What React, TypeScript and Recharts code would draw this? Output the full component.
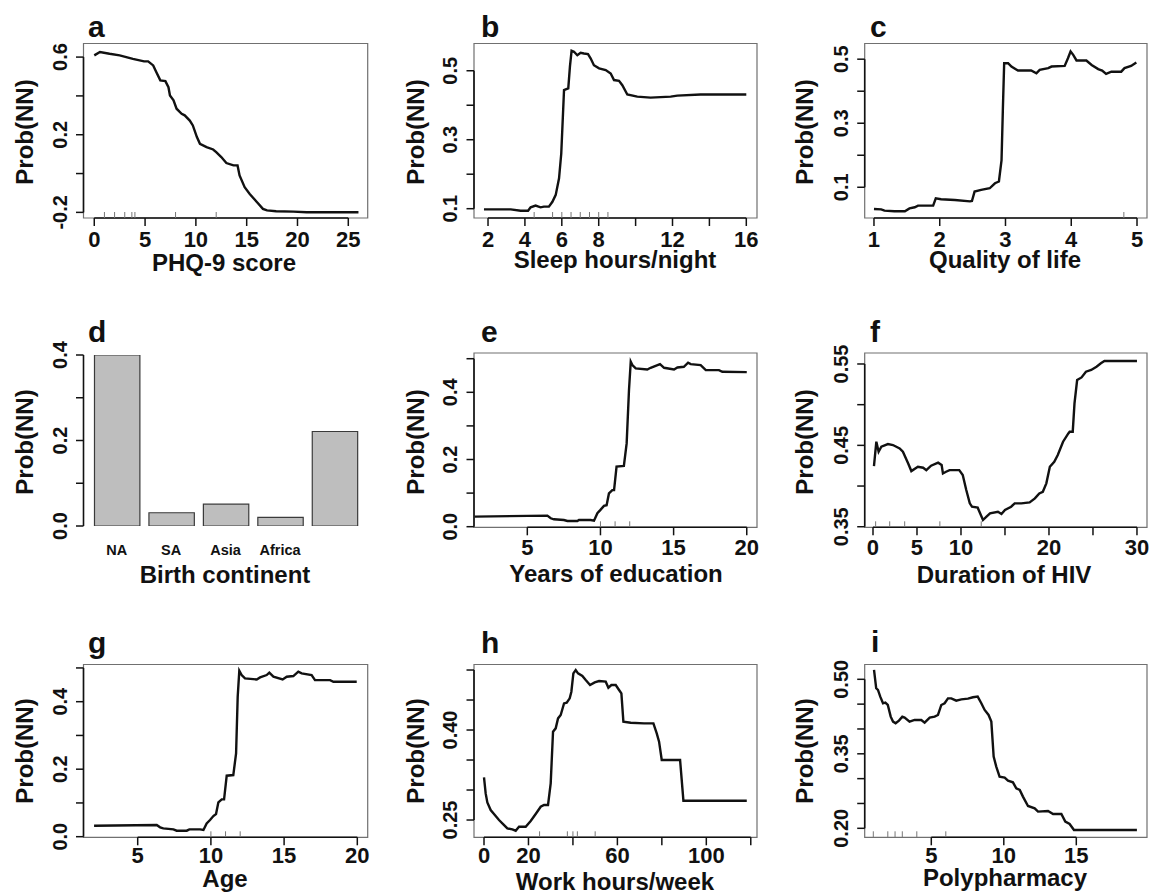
import React from 'react';
import { ComposedChart, Line, Bar, Scatter, XAxis, YAxis, ReferenceArea, ReferenceLine } from 'recharts';

// a - PHQ-9 score
const phqX = [0, 0.56, 1.5, 2.5, 3.8, 4.9, 5.3, 5.8, 6.1, 6.5, 7.0, 7.3, 7.45, 7.8, 8.1, 8.6, 8.9, 9.4, 9.7, 10.1, 10.4, 11.05, 11.7, 12.0, 12.5, 13.0, 13.7, 14.1, 14.3, 14.8, 15.3, 16.0, 16.6, 17.0, 17.9, 19.6, 20.9, 26];
const phqY = [0.609, 0.626, 0.617, 0.609, 0.591, 0.578, 0.578, 0.557, 0.523, 0.48, 0.476, 0.445, 0.402, 0.377, 0.334, 0.308, 0.3, 0.273, 0.248, 0.188, 0.153, 0.136, 0.124, 0.11, 0.085, 0.054, 0.042, 0.042, -0.01, -0.07, -0.105, -0.147, -0.182, -0.19, -0.194, -0.196, -0.199, -0.199];
const phqRug = [1, 2, 3, 3.7, 4, 8, 12];

// b - sleep hours
const sleepX = [1.78, 3.23, 3.77, 4.17, 4.31, 4.58, 4.85, 5.03, 5.3, 5.49, 5.67, 5.85, 5.97, 6.12, 6.21, 6.35, 6.44, 6.53, 6.66, 6.84, 7.02, 7.2, 7.42, 7.56, 7.74, 8.02, 8.38, 8.65, 8.83, 9.1, 9.28, 9.55, 10.09, 10.81, 11.9, 12.26, 13.52, 16];
const sleepY = [0.098, 0.098, 0.094, 0.094, 0.104, 0.109, 0.104, 0.106, 0.106, 0.12, 0.14, 0.188, 0.26, 0.444, 0.446, 0.449, 0.512, 0.558, 0.555, 0.545, 0.552, 0.55, 0.548, 0.536, 0.516, 0.507, 0.502, 0.492, 0.473, 0.471, 0.458, 0.431, 0.425, 0.422, 0.425, 0.428, 0.431, 0.431];
const sleepRug = [4.5, 5.5, 6, 6.5, 7, 7.5, 8, 8.5];

// c - quality of life
const qolX = [1, 1.11, 1.16, 1.31, 1.47, 1.54, 1.62, 1.67, 1.9, 1.94, 2.02, 2.23, 2.46, 2.49, 2.53, 2.63, 2.76, 2.84, 2.9, 2.94, 2.96, 2.98, 3.04, 3.09, 3.19, 3.39, 3.47, 3.52, 3.65, 3.7, 3.9, 3.95, 3.99, 4.03, 4.08, 4.23, 4.31, 4.41, 4.47, 4.53, 4.61, 4.76, 4.81, 4.91, 4.99];
const qolY = [0.0323, 0.031, 0.027, 0.025, 0.025, 0.034, 0.0375, 0.0427, 0.0427, 0.0656, 0.0625, 0.0604, 0.056, 0.057, 0.0865, 0.0917, 0.0969, 0.1125, 0.118, 0.185, 0.342, 0.4875, 0.4875, 0.477, 0.4646, 0.4646, 0.456, 0.4667, 0.472, 0.477, 0.479, 0.503, 0.524, 0.5135, 0.496, 0.496, 0.482, 0.469, 0.4646, 0.454, 0.461, 0.461, 0.472, 0.479, 0.4896];
const qolRug = [4.8];

// d - birth continent
const continents = ['NA', 'SA', 'Asia', 'Africa', ''];
const continentPos = [0.7, 1.9, 3.1, 4.3, 5.5];
const continentProb = [0.4, 0.031, 0.051, 0.02, 0.221];

// e - years of education
const eduX = [1.4, 6.37, 6.6, 6.82, 7.5, 7.74, 8.42, 8.53, 9.33, 9.56, 9.79, 10.0, 10.24, 10.42, 10.58, 10.81, 10.93, 11.1, 11.6, 11.79, 11.95, 12.07, 12.18, 12.41, 13.2, 13.43, 13.9, 14.07, 14.35, 15.03, 15.26, 15.7, 15.99, 16.17, 16.85, 17.2, 18.1, 18.33, 20];
const eduY = [0.03, 0.033, 0.025, 0.022, 0.02, 0.017, 0.017, 0.02, 0.02, 0.018, 0.04, 0.05, 0.062, 0.064, 0.099, 0.109, 0.109, 0.179, 0.181, 0.248, 0.407, 0.491, 0.481, 0.471, 0.468, 0.473, 0.481, 0.484, 0.473, 0.468, 0.474, 0.476, 0.488, 0.484, 0.481, 0.466, 0.466, 0.461, 0.46];
const eduRug = [10, 11, 12];

// f - duration of HIV
const hivX = [0.11, 0.38, 0.64, 0.95, 1.7, 2.27, 3.03, 3.4, 4.0, 4.36, 5.1, 5.7, 6.06, 6.6, 7.4, 7.8, 7.95, 8.3, 8.7, 9.8, 10.2, 10.6, 11.0, 11.25, 11.9, 12.5, 12.9, 13.3, 14.2, 14.6, 15.0, 15.7, 16.1, 16.86, 17.8, 18.4, 18.9, 19.3, 19.7, 20.1, 20.6, 21.0, 21.6, 22.2, 22.35, 22.7, 22.9, 23.2, 23.7, 24.2, 24.8, 25.4, 25.9, 26.3, 30];
const hivY = [0.4246, 0.4545, 0.4422, 0.4483, 0.4516, 0.4504, 0.4463, 0.4422, 0.4278, 0.4184, 0.4237, 0.4225, 0.4196, 0.425, 0.4287, 0.4258, 0.4155, 0.4176, 0.4196, 0.4196, 0.4135, 0.3951, 0.3787, 0.3746, 0.3734, 0.3582, 0.3623, 0.3664, 0.3684, 0.3656, 0.3705, 0.3746, 0.3787, 0.3787, 0.3799, 0.3848, 0.391, 0.393, 0.4033, 0.4237, 0.4299, 0.4381, 0.4545, 0.4647, 0.4668, 0.4668, 0.5016, 0.5303, 0.5335, 0.5405, 0.5426, 0.5467, 0.5508, 0.5536, 0.5536];
const hivRug = [0.3, 1.9, 3.6, 7.6, 12.3];

// g - age
const ageX = [2.02, 6.3, 6.53, 6.75, 7.44, 7.66, 8.35, 8.53, 9.26, 9.49, 9.71, 9.94, 10.17, 10.35, 10.51, 10.74, 10.9, 11.08, 11.53, 11.72, 11.83, 11.94, 12.1, 12.33, 13.13, 13.36, 13.81, 13.99, 14.27, 14.9, 15.18, 15.63, 15.97, 16.2, 16.88, 17.11, 18.14, 18.37, 19.96];
const ageY = [0.0326, 0.0346, 0.0277, 0.0247, 0.0217, 0.0178, 0.0178, 0.0217, 0.0217, 0.0198, 0.0395, 0.0494, 0.0612, 0.0672, 0.1017, 0.1106, 0.1106, 0.1807, 0.1827, 0.2469, 0.4148, 0.4919, 0.479, 0.469, 0.466, 0.472, 0.479, 0.486, 0.474, 0.466, 0.474, 0.476, 0.489, 0.484, 0.479, 0.464, 0.464, 0.459, 0.459];
const ageRug = [10, 11, 12];

// h - work hours/week
const workX = [0, 0.75, 1.5, 3, 5.25, 6.75, 8.7, 10.5, 12.75, 14.25, 15.75, 18.75, 21, 23.25, 25.5, 27, 28.8, 30, 31.05, 32.25, 33.3, 34.5, 36, 37.2, 38.55, 39.3, 40.2, 41.25, 42.3, 44.25, 45.75, 47.7, 49.8, 51.75, 54.75, 55.95, 57.3, 59.25, 60.75, 61.8, 62.7, 66, 72, 76.2, 77.7, 78.75, 79.95, 88.2, 89.7, 118.2];
const workY = [0.3211, 0.2944, 0.2794, 0.2667, 0.2567, 0.25, 0.2428, 0.2361, 0.2344, 0.2322, 0.2389, 0.2389, 0.2483, 0.26, 0.2722, 0.275, 0.275, 0.3111, 0.3972, 0.4028, 0.4194, 0.425, 0.4444, 0.4456, 0.4528, 0.4639, 0.4944, 0.5, 0.4944, 0.49, 0.4833, 0.475, 0.4794, 0.4817, 0.4806, 0.4706, 0.475, 0.475, 0.4667, 0.4611, 0.4139, 0.4122, 0.4111, 0.4111, 0.3944, 0.3806, 0.35, 0.35, 0.2822, 0.2822];
const workRug = [25, 37.5, 40, 42, 50];

// i - polypharmacy
const polyX = [1.05, 1.2, 1.32, 1.48, 1.67, 1.83, 2.0, 2.2, 2.36, 2.54, 2.77, 3.0, 3.16, 3.5, 3.85, 4.31, 4.54, 4.89, 5.23, 5.46, 5.69, 5.92, 6.15, 6.38, 6.72, 7.07, 7.53, 7.87, 8.2, 8.45, 8.68, 8.95, 9.14, 9.3, 9.48, 9.71, 10.06, 10.29, 10.63, 10.86, 11.1, 11.32, 11.67, 12.13, 12.36, 13.05, 13.4, 13.97, 14.24, 14.54, 14.84, 19.18];
const polyY = [0.5188, 0.4819, 0.4785, 0.4651, 0.4517, 0.453, 0.4483, 0.4248, 0.4148, 0.4114, 0.4168, 0.4248, 0.4228, 0.4148, 0.4181, 0.4181, 0.4128, 0.4228, 0.4248, 0.4282, 0.4483, 0.4517, 0.4617, 0.4617, 0.457, 0.4597, 0.461, 0.4638, 0.4651, 0.4517, 0.4383, 0.4282, 0.4148, 0.3443, 0.3242, 0.304, 0.302, 0.296, 0.2926, 0.2805, 0.2772, 0.2638, 0.245, 0.2403, 0.2336, 0.2349, 0.2289, 0.2289, 0.2134, 0.2087, 0.1966, 0.1966];
const polyRug = [1, 2, 2.5, 3, 4, 6];

// grid geometry (page px)
const COL_X = [0, 384, 768];
const COL_W = 383;
const ROW_Y = [0, 290, 590];
const ROW_H = [290, 300, 305];
const BOX_L = [83.5, 474, 864.7];
const BOX_R = [367.7, 757, 1147];
const BOX_T = [43.5, 353, 664.5];
const BOX_B = [218, 527.3, 837.3];
const XLAB_GAP = [28.5, 27.7, 26];

const FONT = '"Liberation Sans", Arial, sans-serif';
const INK = '#111';

const panels = [
  { letter: 'a', title: 'PHQ-9 score', col: 0, row: 0, xs: phqX, ys: phqY, rug: phqRug,
    xDomain: [-1.06, 26.91], yDomain: [-0.229, 0.67],
    xTicks: [0, 5, 10, 15, 20, 25], xLabels: ['0', '5', '10', '15', '20', '25'],
    yTicks: [-0.2, 0, 0.2, 0.4, 0.6], yLabels: ['-0.2', '', '0.2', '', '0.6'] },
  { letter: 'b', title: 'Sleep hours/night', col: 1, row: 0, xs: sleepX, ys: sleepY, rug: sleepRug,
    xDomain: [1.24, 16.58], yDomain: [0.073, 0.579],
    xTicks: [2, 4, 6, 8, 10, 12, 14, 16], xLabels: ['2', '4', '6', '8', '', '12', '', '16'],
    yTicks: [0.1, 0.2, 0.3, 0.4, 0.5], yLabels: ['0.1', '', '0.3', '', '0.5'] },
  { letter: 'c', title: 'Quality of life', col: 2, row: 0, xs: qolX, ys: qolY, rug: qolRug,
    xDomain: [0.859, 5.152], yDomain: [0.004, 0.549],
    xTicks: [1, 2, 3, 4, 5], xLabels: ['1', '2', '3', '4', '5'],
    yTicks: [0.1, 0.2, 0.3, 0.4, 0.5], yLabels: ['0.1', '', '0.3', '', '0.5'] },
  { letter: 'e', title: 'Years of education', col: 1, row: 1, xs: eduX, ys: eduY, rug: eduRug,
    xDomain: [1.356, 20.7], yDomain: [-0.0018, 0.517],
    xTicks: [5, 10, 15, 20], xLabels: ['5', '10', '15', '20'],
    yTicks: [0, 0.1, 0.2, 0.3, 0.4, 0.5], yLabels: ['0.0', '', '0.2', '', '0.4', ''] },
  { letter: 'f', title: 'Duration of HIV', col: 2, row: 1, xs: hivX, ys: hivY, rug: hivRug,
    xDomain: [-0.943, 31.14], yDomain: [0.3493, 0.5635],
    xTicks: [0, 5, 10, 15, 20, 25, 30], xLabels: ['0', '5', '10', '', '20', '', '30'],
    yTicks: [0.35, 0.4, 0.45, 0.5, 0.55], yLabels: ['0.35', '', '0.45', '', '0.55'] },
  { letter: 'g', title: 'Age', col: 0, row: 2, xs: ageX, ys: ageY, rug: ageRug,
    xDomain: [1.298, 20.71], yDomain: [-0.0018, 0.5102],
    xTicks: [5, 10, 15, 20], xLabels: ['5', '10', '15', '20'],
    yTicks: [0, 0.1, 0.2, 0.3, 0.4, 0.5], yLabels: ['0.0', '', '0.2', '', '0.4', ''] },
  { letter: 'h', title: 'Work hours/week', col: 1, row: 2, xs: workX, ys: workY, rug: workRug,
    xDomain: [-4.5, 122.8], yDomain: [0.2212, 0.5092],
    xTicks: [0, 20, 40, 60, 80, 100, 120], xLabels: ['0', '20', '', '60', '', '100', ''],
    yTicks: [0.25, 0.3, 0.35, 0.4, 0.45, 0.5], yLabels: ['0.25', '', '', '0.40', '', ''] },
  { letter: 'i', title: 'Polypharmacy', col: 2, row: 2, xs: polyX, ys: polyY, rug: polyRug,
    xDomain: [0.407, 19.876], yDomain: [0.1819, 0.5298],
    xTicks: [5, 10, 15], xLabels: ['5', '10', '15'],
    yTicks: [0.2, 0.25, 0.3, 0.35, 0.4, 0.45, 0.5], yLabels: ['0.20', '', '', '0.35', '', '', '0.50'] },
];

// text placement (page px)
const letterPos: Record<string, [number, number]> = {
  a: [88, 37], b: [481, 37], c: [870, 37],
  d: [88, 342], e: [481, 342], f: [870, 342],
  g: [88, 653], h: [481, 653], i: [871, 652],
};
const titlePos: Record<string, [number, number]> = {
  a: [224, 271], b: [615, 268], c: [1005, 268],
  d: [225, 583], e: [616, 582], f: [1004, 583],
  g: [225, 887], h: [615, 890], i: [1005, 886],
};
const yTitleRow = [132, 442, 751];
const yTitleCol = [32.5, 423.5, 813];

function CurvePanel({ p }: { p: any }) {
  const left = COL_X[p.col];
  const top = ROW_Y[p.row];
  const h = ROW_H[p.row];
  const L = BOX_L[p.col] - left;
  const R = BOX_R[p.col] - left;
  const T = BOX_T[p.row] - top;
  const B = BOX_B[p.row] - top;
  const data = p.xs.map((x: number, i: number) => ({ x, y: p.ys[i] }));
  const rug = p.rug.map((x: number) => ({ x, y: p.yDomain[0] }));
  const [x0, x1] = p.xDomain;
  const [y0, y1] = p.yDomain;

  const xTick = (props: any) => {
    const idx = p.xTicks.indexOf(props.payload.value);
    return (
      <text x={props.x} y={B + XLAB_GAP[p.row]} textAnchor="middle" fontSize={22} fontWeight="bold" fontFamily={FONT} fill={INK}>
        {p.xLabels[idx]}
      </text>
    );
  };
  const yTick = (props: any) => {
    const idx = p.yTicks.findIndex((t: number) => Math.abs(t - props.payload.value) < 1e-9);
    return (
      <text transform={`translate(${L - 17},${props.y}) rotate(-90)`} textAnchor="middle" fontSize={20} fontWeight="bold" fontFamily={FONT} fill={INK}>
        {p.yLabels[idx]}
      </text>
    );
  };

  return (
    <div style={{ position: 'absolute', left, top }}>
      <ComposedChart width={COL_W} height={h} margin={{ top: T, right: COL_W - R, bottom: 0, left: 0 }}>
        <XAxis type="number" dataKey="x" domain={p.xDomain} allowDataOverflow ticks={p.xTicks} interval={0}
          axisLine={false} tickLine={{ stroke: INK, strokeWidth: 1.5 }} tickSize={8} height={h - B} tick={xTick} />
        <YAxis type="number" domain={p.yDomain} allowDataOverflow ticks={p.yTicks} interval={0}
          axisLine={false} tickLine={{ stroke: INK, strokeWidth: 1.5 }} tickSize={7.5} width={L} tick={yTick} />
        <ReferenceArea x1={x0} x2={x1} y1={y0} y2={y1} fill="none" stroke="#707070" strokeWidth={1.2} ifOverflow="visible" />
        <ReferenceLine segment={[{ x: p.xTicks[0], y: y0 }, { x: p.xTicks[p.xTicks.length - 1], y: y0 }]} stroke={INK} strokeWidth={1.6} ifOverflow="visible" />
        <ReferenceLine segment={[{ x: x0, y: p.yTicks[0] }, { x: x0, y: p.yTicks[p.yTicks.length - 1] }]} stroke={INK} strokeWidth={1.6} ifOverflow="visible" />
        <Scatter data={rug} dataKey="y" isAnimationActive={false}
          shape={(s: any) => <line x1={s.cx} x2={s.cx} y1={s.cy} y2={s.cy - 6} stroke="#777" strokeWidth={1} />} />
        <Line data={data} dataKey="y" type="linear" stroke={INK} strokeWidth={2.4} dot={false} isAnimationActive={false} />
      </ComposedChart>
    </div>
  );
}

function BarPanel() {
  const left = COL_X[0];
  const top = ROW_Y[1];
  const h = ROW_H[1];
  const L = BOX_L[0] - left;
  const R = BOX_R[0] - left;
  const T = 355 - top;
  const B = 526 - top;
  const data = continents.map((name, i) => ({ x: continentPos[i], v: continentProb[i], name }));
  const yTicks = [0, 0.1, 0.2, 0.3, 0.4];
  const yLabels = ['0.0', '', '0.2', '', '0.4'];

  const xTick = (props: any) => {
    const idx = continentPos.indexOf(props.payload.value);
    return (
      <text x={props.x} y={B + 29} textAnchor="middle" fontSize={14.5} fontWeight="bold" fontFamily={FONT} fill={INK}>
        {continents[idx]}
      </text>
    );
  };
  const yTick = (props: any) => {
    const idx = yTicks.findIndex((t) => Math.abs(t - props.payload.value) < 1e-9);
    return (
      <text transform={`translate(${L - 17},${props.y}) rotate(-90)`} textAnchor="middle" fontSize={20} fontWeight="bold" fontFamily={FONT} fill={INK}>
        {yLabels[idx]}
      </text>
    );
  };

  return (
    <div style={{ position: 'absolute', left, top }}>
      <ComposedChart width={COL_W} height={h} data={data} margin={{ top: T, right: COL_W - R, bottom: 0, left: 0 }}>
        <XAxis type="number" dataKey="x" domain={[-0.032, 6.232]} allowDataOverflow ticks={continentPos} interval={0}
          axisLine={false} tickLine={false} height={h - B} tick={xTick} />
        <YAxis type="number" domain={[0, 0.4]} allowDataOverflow ticks={yTicks} interval={0}
          axisLine={{ stroke: INK, strokeWidth: 1.6 }} tickLine={{ stroke: INK, strokeWidth: 1.5 }} tickSize={7.5} width={L} tick={yTick} />
        <Bar dataKey="v" barSize={45.4} fill="#bebebe" stroke="#3a3a3a" strokeWidth={1.2} isAnimationActive={false} />
      </ComposedChart>
    </div>
  );
}

export default function App() {
  const letters = ['a', 'b', 'c', 'd', 'e', 'f', 'g', 'h', 'i'];
  return (
    <div style={{ position: 'absolute', left: 0, top: 0, width: 1151, height: 895, background: '#fff', overflow: 'hidden' }}>
      {panels.map((p) => (
        <CurvePanel key={p.letter} p={p} />
      ))}
      <BarPanel />
      <svg width={1151} height={895} style={{ position: 'absolute', left: 0, top: 0, pointerEvents: 'none' }}>
        {letters.map((k, i) => (
          <g key={k}>
            <text x={letterPos[k][0]} y={letterPos[k][1]} fontSize={30} fontWeight="bold" fontFamily={FONT} fill={INK}>{k}</text>
            <text x={titlePos[k][0]} y={titlePos[k][1]} textAnchor="middle" fontSize={24} fontWeight="bold" fontFamily={FONT} fill={INK}>
              {k === 'd' ? 'Birth continent' : panels.find((p) => p.letter === k)?.title}
            </text>
            <text transform={`translate(${yTitleCol[i % 3]},${yTitleRow[Math.floor(i / 3)]}) rotate(-90)`} textAnchor="middle"
              fontSize={24} fontWeight="bold" fontFamily={FONT} fill={INK}>Prob(NN)</text>
          </g>
        ))}
      </svg>
    </div>
  );
}
